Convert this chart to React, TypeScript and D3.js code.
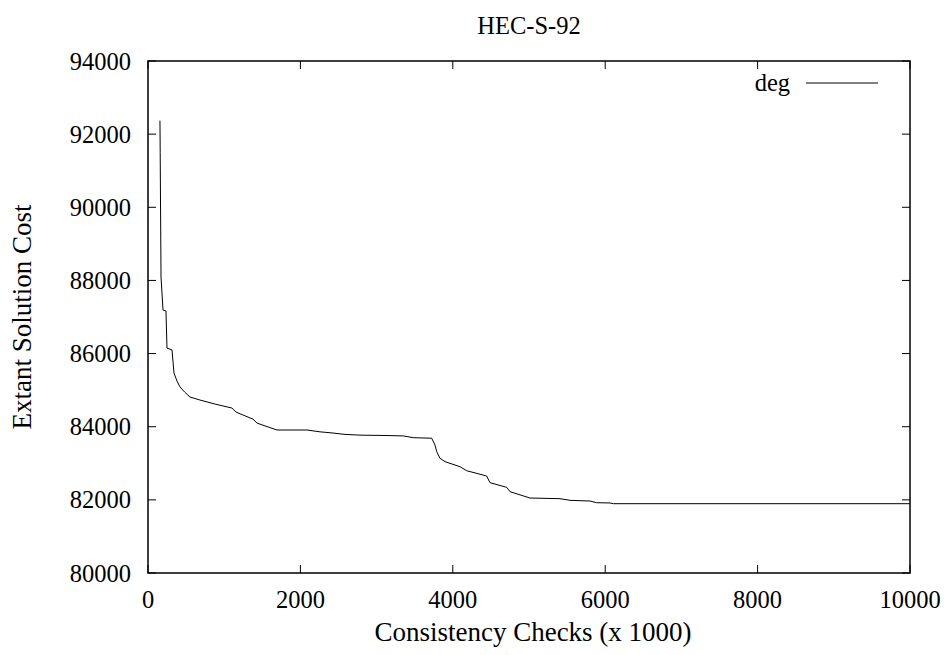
import React from "react";
import * as d3 from "d3";

const title = "HEC-S-92";
const xLabel = "Consistency Checks (x 1000)";
const yLabel = "Extant Solution Cost";
const seriesName = "deg";
const xTicks = [0, 2000, 4000, 6000, 8000, 10000];
const yTicks = [80000, 82000, 84000, 86000, 88000, 90000, 92000, 94000];

const checks = [157, 160, 164, 171, 197, 236, 249, 315, 341, 380, 420, 480, 551, 682, 879, 1102, 1155, 1339, 1378, 1430, 1496, 1693, 2087, 2257, 2415, 2585, 2782, 3110, 3351, 3482, 3723, 3766, 3789, 3832, 3898, 4094, 4182, 4444, 4488, 4707, 4751, 5013, 5407, 5538, 5801, 5888, 6063, 6107, 10000];
const cost = [92370, 91500, 90200, 88094, 87191, 87164, 86150, 86100, 85470, 85250, 85087, 84950, 84812, 84730, 84620, 84510, 84400, 84240, 84210, 84100, 84050, 83910, 83910, 83860, 83830, 83790, 83770, 83760, 83748, 83700, 83685, 83500, 83317, 83136, 83044, 82907, 82797, 82652, 82470, 82342, 82223, 82050, 82032, 81987, 81968, 81922, 81915, 81895, 81895];

const W = 949, H = 655;
const L = 148, R = 910, T = 61, B = 573;
const FONT = "'Liberation Serif', 'Times New Roman', serif";
const FS = 24.5;
const LFS = 27;

export default function App() {
  const x = d3.scaleLinear().domain([0, 10000]).range([L, R]);
  const y = d3.scaleLinear().domain([80000, 94000]).range([B, T]);
  const pts: [number, number][] = checks.map((c, i) => [c, cost[i]]);
  const line = d3.line<[number, number]>().x(d => x(d[0])).y(d => y(d[1]));
  const tl = 8;
  return (
    <div style={{ position: "fixed", left: 0, top: 0 }}>
      <svg width={W} height={H} style={{ display: "block", background: "#fff" }}>
        <g fontFamily={FONT} fontSize={FS} fill="#000">
          <text x={(L + R) / 2} y={34} textAnchor="middle">{title}</text>
          <text x={(L + R) / 2 + 4} y={641} textAnchor="middle" fontSize={LFS}>{xLabel}</text>
          <text transform={`translate(31,${(T + B) / 2}) rotate(-90)`} textAnchor="middle" fontSize={LFS}>{yLabel}</text>
          {yTicks.map(t => (
            <text key={"yl" + t} x={131} y={y(t)} dy="0.35em" textAnchor="end">{t}</text>
          ))}
          {xTicks.map(t => (
            <text key={"xl" + t} x={x(t)} y={608} textAnchor="middle">{t}</text>
          ))}
          <text x={790} y={91} textAnchor="end">{seriesName}</text>
        </g>
        <g stroke="#000" strokeWidth={1}>
          {yTicks.map(t => (
            <g key={"yt" + t}>
              <line x1={L} x2={L + tl} y1={y(t)} y2={y(t)} />
              <line x1={R} x2={R - tl} y1={y(t)} y2={y(t)} />
            </g>
          ))}
          {xTicks.map(t => (
            <g key={"xt" + t}>
              <line x1={x(t)} x2={x(t)} y1={B} y2={B - tl} />
              <line x1={x(t)} x2={x(t)} y1={T} y2={T + tl} />
            </g>
          ))}
        </g>
        <rect x={L} y={T} width={R - L} height={B - T} fill="none" stroke="#000" strokeWidth={1.5} />
        <path d={line(pts) || ""} fill="none" stroke="#000" strokeWidth={1} />
        <line x1={806} x2={878} y1={83} y2={83} stroke="#000" strokeWidth={1} />
      </svg>
    </div>
  );
}
